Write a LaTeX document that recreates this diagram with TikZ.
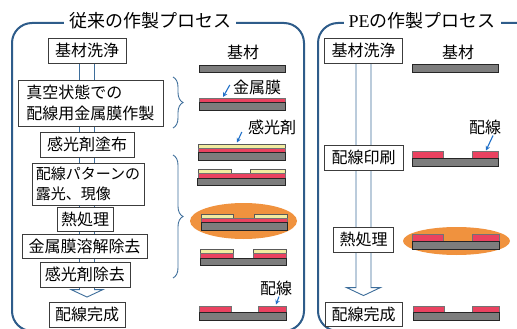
\documentclass[tikz,border=0pt]{standalone}
\usepackage{fontspec}
\setmainfont{Liberation Serif}
\newfontfamily\jpfont{Noto Sans CJK JP}
\usetikzlibrary{calc,arrows.meta,decorations.pathreplacing,backgrounds}

\definecolor{frameblue}{RGB}{46,92,138}
\definecolor{flowblue}{RGB}{62,110,155}
\definecolor{pointblue}{RGB}{32,112,200}
\definecolor{metalred}{RGB}{234,66,96}
\definecolor{resistyel}{RGB}{242,236,160}
\definecolor{heatorange}{RGB}{240,146,62}
\definecolor{basegrey}{RGB}{125,125,125}
\definecolor{boxline}{RGB}{60,60,60}

\tikzset{
  panel/.style={draw=frameblue,line width=2pt,rounded corners=20pt},
  paneltitle/.style={fill=white,inner xsep=5pt,inner ysep=1pt,
    font=\jpfont\fontsize{18}{20}\selectfont},
  stepbox/.style={draw=boxline,fill=white,line width=0.9pt,inner sep=1pt,
    font=\jpfont\fontsize{16}{21}\selectfont,text=black},
  layerlabel/.style={inner sep=1pt,font=\jpfont\fontsize{16}{18}\selectfont},
  substrate/.style={draw=black!85,fill=basegrey,line width=0.8pt},
  metal/.style={draw=black!55,fill=metalred,line width=0.6pt},
  resist/.style={draw=black!65,fill=resistyel,line width=0.6pt},
  heatzone/.style={fill=heatorange},
  flowarrow/.style={draw=flowblue,fill=white,line width=0.9pt,line join=miter},
  pointer/.style={draw=pointblue,line width=1.1pt,-{Stealth[length=4.5pt,width=4.5pt]}},
  stepbrace/.style={draw=flowblue,line width=0.9pt,decorate,
    decoration={brace,amplitude=10pt}},
}

\begin{document}
\begin{tikzpicture}[x=1pt,y=-1pt]
\useasboundingbox (0,0) rectangle (517,329);

% ---------- panel frames and titles ----------
\draw[panel] (12,23) rectangle (304,331);
\draw[panel] (318,23) rectangle (545,331);
\node[paneltitle] (ltitle) at (150,21) {従来の作製プロセス};
\node[paneltitle] (rtitle) at (422,21) {{\rmfamily PE}の作製プロセス};

% ---------- conventional process steps ----------
\node[stepbox,minimum width=78pt,minimum height=25pt] (lwash) at (87,50.5) {基材洗浄};
\node[stepbox,minimum width=145pt,minimum height=46pt,align=left] (lvac) at (90.5,103)
  {真空状態での\\配線用金属膜作製};
\node[stepbox,minimum width=94pt,minimum height=25pt] (lresist) at (87,144.5) {感光剤塗布};
\node[stepbox,minimum width=112pt,minimum height=42pt,align=left,
  font=\jpfont\fontsize{15}{20}\selectfont] (lexpose) at (88,184) {配線パターンの\\露光、現像};
\node[stepbox,minimum width=56pt,minimum height=24pt] (lheat) at (85,219) {熱処理};
\node[stepbox,minimum width=125pt,minimum height=24pt] (letch) at (84.5,246) {金属膜溶解除去};
\node[stepbox,minimum width=90pt,minimum height=25pt] (lstrip) at (85,274.5) {感光剤除去};
\node[stepbox,minimum width=76pt,minimum height=25pt] (ldone) at (87,314.5) {配線完成};

% ---------- PE process steps ----------
\node[stepbox,minimum width=78pt,minimum height=25pt] (rwash) at (363.5,50.5) {基材洗浄};
\node[stepbox,minimum width=79pt,minimum height=25pt] (rprint) at (363.5,157.5) {配線印刷};
\node[stepbox,minimum width=60pt,minimum height=25pt] (rheat) at (363.5,239.5) {熱処理};
\node[stepbox,minimum width=77pt,minimum height=24pt] (rdone) at (363.5,314) {配線完成};

% ---------- hollow flow arrows behind the steps ----------
\begin{scope}[on background layer]
  \draw[flowarrow] ($(lwash.south)+(-7.5,0)$) |- ($(ldone.north)+(-16,-12)$)
    -- ($(ldone.north)+(0,-4.5)$) -- ($(ldone.north)+(16,-12)$)
    -| ($(lwash.south)+(7.5,0)$);
  \draw[flowarrow] ($(rwash.south)+(-7.5,0)$) |- ($(rdone.north)+(-17,-14)$)
    -- ($(rdone.north)+(0,-6)$) -- ($(rdone.north)+(17,-14)$)
    -| ($(rwash.south)+(7.5,0)$);
\end{scope}

% ---------- braces grouping steps ----------
\draw[stepbrace] (173,77) -- (173,128);
\draw[stepbrace] (173,155) -- (173,278);

% ---------- conventional cross sections ----------
% substrate only
\draw[substrate] (199,65) rectangle (285,72);
% metal film
\draw[metal] (199,98) rectangle (285,102);
\draw[substrate] (199,102) rectangle (285,110);
% resist coated
\draw[resist] (198,144) rectangle (285,148);
\draw[metal] (198,148) rectangle (285,152.5);
\draw[substrate] (198,152.5) rectangle (285,160);
% exposed and developed
\draw[resist] (198,169) rectangle (231,173);
\draw[resist] (250,169) rectangle (285,173);
\draw[metal] (198,173) rectangle (285,178);
\draw[substrate] (197,178) rectangle (285,185);
% baked
\fill[heatzone] (243.5,221) ellipse [x radius=53.5, y radius=18];
\draw[resist] (201,214) rectangle (233,218);
\draw[resist] (254,214) rectangle (287,218);
\draw[metal] (201,218) rectangle (287,222);
\draw[substrate] (201,222) rectangle (287,230);
% metal etched
\draw[resist] (200,249) rectangle (233,253);
\draw[resist] (253,249) rectangle (286,253);
\draw[metal] (200,253) rectangle (233,258);
\draw[metal] (253,253) rectangle (286,258);
\draw[substrate] (200,258) rectangle (286,265);
% finished wiring
\draw[metal] (199,306) rectangle (231,312);
\draw[metal] (258,306) rectangle (286,312);
\draw[substrate] (199,312) rectangle (286,320);

% ---------- PE cross sections ----------
\draw[substrate] (412,64) rectangle (498,72);
\draw[metal] (412,151) rectangle (443,158);
\draw[metal] (472,151) rectangle (498,158);
\draw[substrate] (412,158) rectangle (498,166);
\fill[heatzone] (456.5,241) ellipse [x radius=53.5, y radius=14];
\draw[metal] (412,234) rectangle (443,241);
\draw[metal] (472,234) rectangle (499,241);
\draw[substrate] (412,241) rectangle (499,249);
\draw[metal] (413,306) rectangle (444,312.5);
\draw[metal] (472,306) rectangle (499,312.5);
\draw[substrate] (413,312.5) rectangle (499,320);

% ---------- layer labels and pointers ----------
\node[layerlabel] (lbase) at (243,52) {基材};
\node[layerlabel] (lmetal) at (257,87) {金属膜};
\node[layerlabel] (lres) at (272,127) {感光剤};
\node[layerlabel] (lwire) at (276,288) {配線};
\node[layerlabel] (rbase) at (458,52) {基材};
\node[layerlabel] (rwire) at (485,127) {配線};

\coordinate (metaltip) at (223,97);
\coordinate (resisttip) at (237,142.5);
\coordinate (lwiretip) at (276,304.5);
\coordinate (rwiretip) at (486,150.5);

\draw[pointer] ([shift={(-2,-2)}]lmetal.west) -- (metaltip);
\draw[pointer] ([shift={(-5,5)}]lres.west) -- (resisttip);
\draw[pointer] ([shift={(3,0)}]lwire.south) -- (lwiretip);
\draw[pointer] ([shift={(8,0)}]rwire.south) -- (rwiretip);
\end{tikzpicture}
\end{document}
